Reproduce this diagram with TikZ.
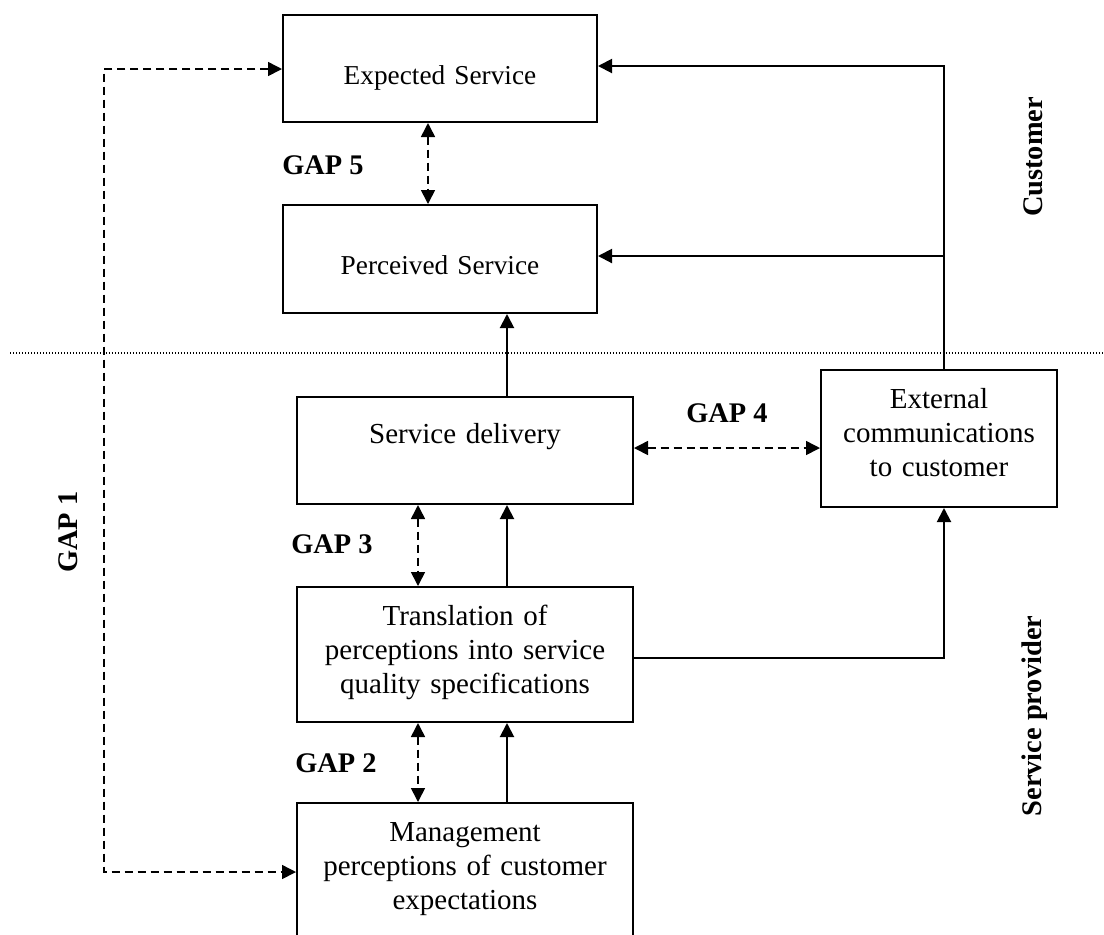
\documentclass[tikz,border=0pt]{standalone}
\usepackage{fontspec}
\setmainfont{Liberation Serif}
\usetikzlibrary{arrows.meta}

\begin{document}
\begin{tikzpicture}[x=0.5pt,y=-0.5pt,
  box/.style={draw, line width=1pt, anchor=north, inner xsep=0pt, inner ysep=0pt, align=center},
  upperbox/.style={box, text width=157pt, font=\fontsize{13.65}{17}\selectfont},
  lowerbox/.style={box, text width=168pt, font=\fontsize{14.5}{17}\selectfont},
  gaplabel/.style={font=\fontsize{14.2}{17}\selectfont\bfseries, anchor=base, inner sep=0pt},
  side/.style={gaplabel, rotate=90},
  flow/.style={line width=1pt, -{Triangle[length=7pt,width=7pt]}},
  gap/.style={line width=0.8pt, dash pattern=on 4pt off 2.5pt,
              {Triangle[length=7pt,width=7pt]}-{Triangle[length=7pt,width=7pt]}},
  divider/.style={line width=0.6pt, dash pattern=on 0.6pt off 0.9pt}
]
\useasboundingbox (0,0) rectangle (1104,934);
\clip (0,0) rectangle (1104,934);

% customer / provider divider
\coordinate (dl) at (10,353);
\coordinate (dr) at (1104,353);
\draw[divider] (dl) -- (dr);

% boxes
\node[upperbox, text height=34.5pt, text depth=19pt] (exp) at (440,14) {Expected Service};
\node[upperbox, text height=34.5pt, text depth=19.5pt] (perc) at (440,204) {Perceived Service};
\node[lowerbox, text height=23pt, text depth=30.5pt] (sd) at (465,396) {Service delivery};
\node[lowerbox, text height=19pt, text depth=48.5pt] (trans) at (465,586)
  {Translation of\\perceptions into service\\quality specifications};
\node[lowerbox, text height=19pt, text depth=60pt] (mgmt) at (465,802)
  {Management\\perceptions of customer\\expectations};
\node[box, text width=118pt, font=\fontsize{14.5}{17}\selectfont,
      text height=19pt, text depth=49.5pt] (ext) at (939,369)
  {External\\communications\\to customer};

% labels
\node[gaplabel] (g5) at (323,174) {GAP 5};
\node[gaplabel] (g4) at (727,422) {GAP 4};
\node[gaplabel] (g3) at (332,553) {GAP 3};
\node[gaplabel] (g2) at (336,772) {GAP 2};
\node[side] (g1) at (77,532) {GAP 1};
\node[side] (cust) at (1042,157) {Customer};
\node[side] (prov) at (1041,716) {Service provider};

% guide coordinates for connector columns and rows
\coordinate (xA) at (507,0);
\coordinate (xG) at (418,0);
\coordinate (xG5) at (428,0);
\coordinate (xE) at (944,0);
\coordinate (x1) at (104,0);
\coordinate (yE) at (0,66);
\coordinate (yP) at (0,256);
\coordinate (y4) at (0,448);
\coordinate (yT) at (0,658);
\coordinate (y1a) at (0,69);
\coordinate (y1b) at (0,872);
\coordinate (jn) at (944,256);

% main flow
\draw[flow] (sd.north -| xA) -- (perc.south -| xA);
\draw[flow] (trans.north -| xA) -- (sd.south -| xA);
\draw[flow] (mgmt.north -| xA) -- (trans.south -| xA);
\draw[flow] (ext.north -| xE) |- (exp.east |- yE);
\draw[flow] (jn) -- (perc.east |- yP);
\draw[flow] (trans.east |- yT) -| (ext.south -| xE);

% gaps
\draw[gap] (exp.south -| xG5) -- (perc.north -| xG5);
\draw[gap] (sd.south -| xG) -- (trans.north -| xG);
\draw[gap] (trans.south -| xG) -- (mgmt.north -| xG);
\draw[gap] (sd.east |- y4) -- (ext.west |- y4);
\draw[gap] (exp.west |- y1a) -- (x1 |- y1a) -- (x1 |- y1b) -- (mgmt.west |- y1b);
\end{tikzpicture}
\end{document}
